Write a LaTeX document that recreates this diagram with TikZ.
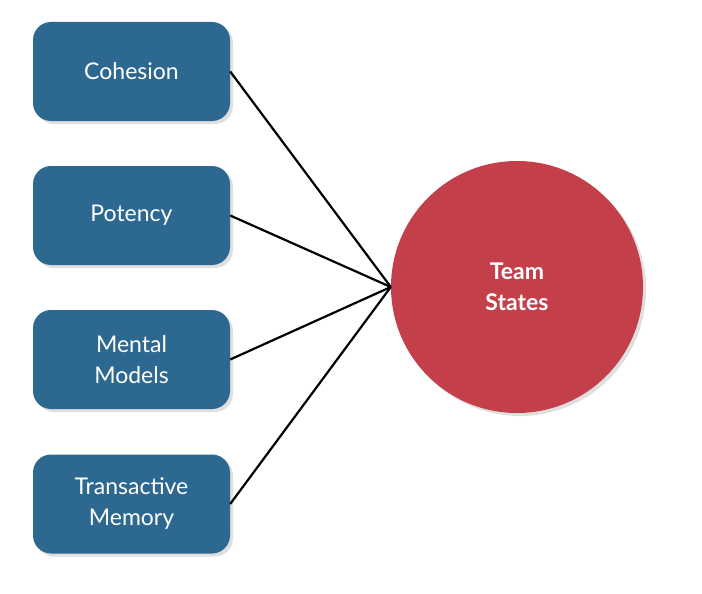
\documentclass[tikz,border=0pt]{standalone}
\usepackage{fontspec}
\setmainfont{Lato}
\usetikzlibrary{shadows}
\definecolor{boxc}{HTML}{2D6890}
\definecolor{circc}{HTML}{C3404B}
\begin{document}
\begin{tikzpicture}[x=1pt,y=-1pt,
  box/.style={draw=none,fill=boxc,rounded corners=18pt,minimum width=197pt,minimum height=99pt,text=white,font=\fontsize{23}{31}\selectfont,align=center,drop shadow={opacity=0.25,shadow xshift=3pt,shadow yshift=-3pt}},
  link/.style={line width=2.2pt,black}]
\useasboundingbox (0,0) rectangle (702,594);
\node[box] (a) at (131.5,71.5) {Cohesion};
\node[box] (b) at (131.5,215.5) {Potency};
\node[box] (c) at (131.5,359.5) {Mental\\Models};
\node[box] (d) at (131.5,504) {Transactive\\Memory};
\node[circle,fill=circc,minimum size=252pt,text=white,font=\fontsize{23}{31}\selectfont\bfseries,align=center,drop shadow={opacity=0.25,shadow xshift=3pt,shadow yshift=-3pt}] (t) at (517,287) {Team\\States};
\coordinate (p) at (t.west);
\foreach \n in {a,b,c,d} \draw[link] (\n.east) -- (p);
\end{tikzpicture}
\end{document}
